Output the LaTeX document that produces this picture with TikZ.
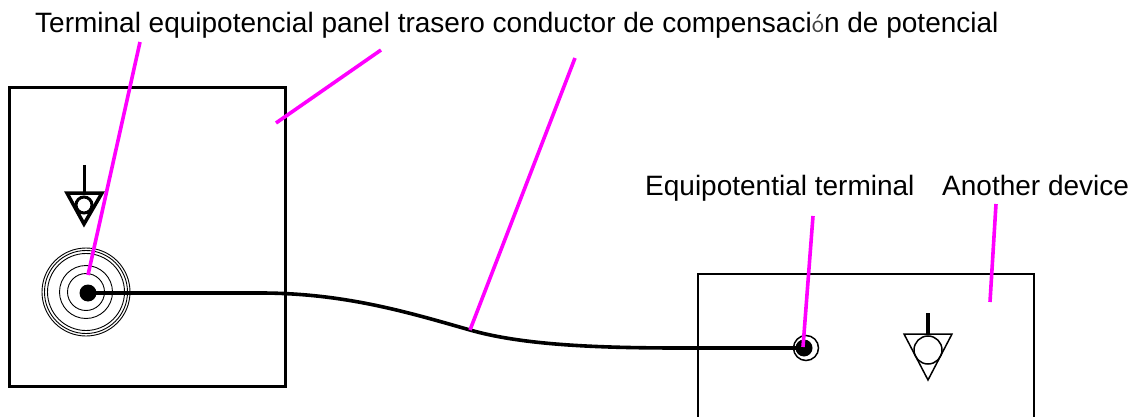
\documentclass[tikz,border=0pt]{standalone}
\usepackage{fontspec}
\setmainfont{Liberation Sans}
\usepackage{xcolor}
\usetikzlibrary{positioning, arrows.meta}
\definecolor{pointer}{RGB}{255, 0, 255}

\begin{document}
\begin{tikzpicture}[
    x=1pt, y=-1pt,
    font=\rmfamily,
    % Styles definition
    label/.style={inner sep=0pt, anchor=base west, font=\fontsize{28}{32}\selectfont},
    panel/.style={draw=black, rectangle, anchor=north west, inner sep=0pt},
    ring/.style={draw=black, circle, inner sep=0pt, line width=0.9pt},
    dot/.style={fill=black, circle, inner sep=0pt, minimum size=17pt},
    lead/.style={draw=pointer, line width=3.6pt},
    cable/.style={draw=black, line width=3.6pt},
    earth/.style={draw=black, line join=miter}
]
\clip (0,0) rectangle (1130,417);
\fill[white] (0,0) rectangle (1130,417);

% 1. Labels
\node[label] (title) at (35,33) {Terminal equipotencial panel trasero conductor de compensaci{\sffamily\fontsize{26}{32}\selectfont\color{black!75}ó}n de potencial};
\node[label] (equi) at (645,195) {Equipotential terminal};
\node[label] (other) at (942,195) {Another device};

% 2. Panels
\node[panel, line width=3pt, minimum width=276pt, minimum height=299pt] (rear) at (8,86) {};
\node[panel, line width=1.5pt, minimum width=336pt, minimum height=200pt] (device) at (697,273) {};

% 3. Left terminal
\foreach \r in {88,83,77,53,37} {
    \node[ring, minimum size=\r pt] at (86,292) {};
}
\node[dot] (stud) at (88,293) {};

% 4. Right terminal
\node[ring, line width=1.5pt, minimum size=25pt] (socket) at (806,348) {};
\node[dot] (pin) at (804,348) {};

% 5. Earth symbols
\node[ring, line width=3pt, minimum size=16pt] (earthA) at (84,205) {};
\draw[earth, line width=3.5pt] (67,193) -- (102,193) -- (84,224) -- cycle;
\draw[earth, line width=3pt] (84,165) -- (84,193);

\node[ring, line width=1.5pt, minimum size=28pt] (earthB) at (928,350) {};
\draw[earth, line width=1.5pt] (904,334) -- (952,334) -- (928,380) -- cycle;
\draw[earth, line width=4pt] (928,313) -- (928,334);

% --- Routing ---

% Conductor
\coordinate (bend) at (470,330);
\draw[cable] (stud.center) -- (260,293) .. controls (345,293) and (410,312.9) .. (bend)
    .. controls (520,344.3) and (590,348) .. (680,348) -- (pin.center);

% Pointers
\coordinate (leadA) at (140,42);
\coordinate (leadB) at (381,50);
\coordinate (leadC) at (575,58);
\coordinate (leadD) at (813,216);
\coordinate (leadE) at (996,204);
\coordinate (rearEnd) at (276,123);
\coordinate (deviceEnd) at (990,302);
\coordinate (studEnd) at (88,275);
\coordinate (pinEnd) at (803,347);
\draw[lead] (leadA) -- (studEnd);
\draw[lead] (leadB) -- (rearEnd);
\draw[lead] (leadC) -- (bend);
\draw[lead] (leadD) -- (pinEnd);
\draw[lead] (leadE) -- (deviceEnd);

\end{tikzpicture}
\end{document}
